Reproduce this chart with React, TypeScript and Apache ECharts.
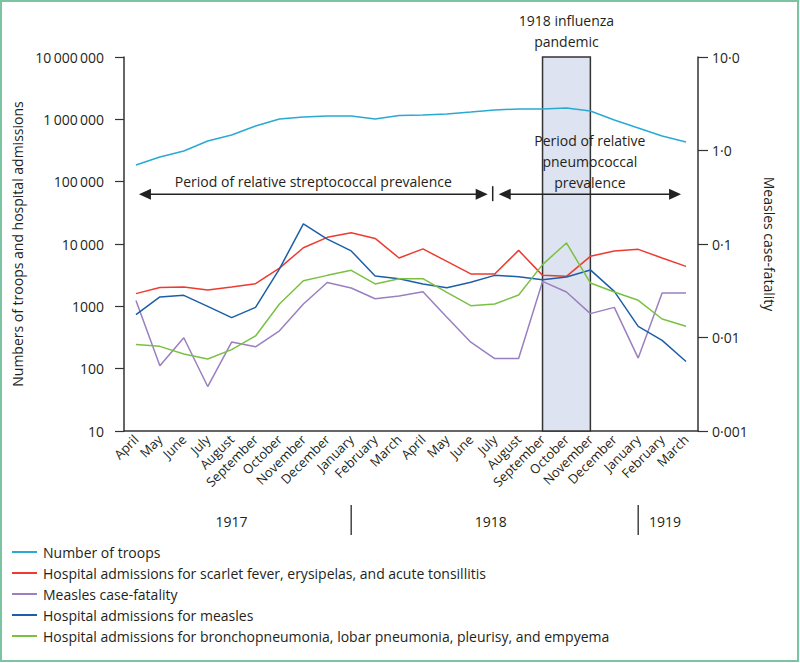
import React, { useEffect, useRef } from "react";
import * as echarts from "echarts";

const months = ["April", "May", "June", "July", "August", "September", "October", "November", "December", "January", "February", "March", "April", "May", "June", "July", "August", "September", "October", "November", "December", "January", "February", "March"];
const monthYears = [1917, 1917, 1917, 1917, 1917, 1917, 1917, 1917, 1917, 1918, 1918, 1918, 1918, 1918, 1918, 1918, 1918, 1918, 1918, 1918, 1918, 1919, 1919, 1919];
const categories = months.map((m, i) => `${m} ${monthYears[i]}`);

const troops = [185000, 249000, 311000, 449000, 561000, 782000, 1010000, 1090000, 1130000, 1130000, 1010000, 1150000, 1170000, 1220000, 1310000, 1410000, 1470000, 1470000, 1520000, 1360000, 975000, 726000, 540000, 433000];
const scarletFever = [1600, 2000, 2050, 1830, 2050, 2310, 4100, 8700, 12800, 15200, 12300, 5970, 8340, 5250, 3310, 3300, 7900, 3140, 3030, 6340, 7740, 8210, 5970, 4380];
const measlesFatality = [0.0249, 0.00498, 0.00993, 0.00299, 0.00893, 0.00795, 0.0118, 0.0228, 0.0388, 0.0338, 0.026, 0.0278, 0.0309, 0.0165, 0.0089, 0.00596, 0.00596, 0.0398, 0.0307, 0.018, 0.021, 0.00602, 0.0299, 0.0299];
const measlesAdmissions = [736, 1415, 1500, 1000, 659, 964, 4000, 21000, 12000, 7740, 3070, 2780, 2290, 1990, 2430, 3140, 2990, 2680, 2960, 3840, 1740, 477, 285, 130];
const pneumonia = [245, 228, 172, 143, 202, 335, 1092, 2580, 3140, 3780, 2290, 2780, 2780, 1680, 1026, 1092, 1524, 4670, 10400, 2370, 1700, 1250, 627, 478];

const leftTickLabels = ["10", "100", "1000", "10\u2009000", "100\u2009000", "1\u2009000\u2009000", "10\u2009000\u2009000"];
const rightTickLabels = ["0·001", "0·01", "0·1", "1·0", "10·0"];

const seriesNames = [
  "Number of troops",
  "Hospital admissions for scarlet fever, erysipelas, and acute tonsillitis",
  "Measles case-fatality",
  "Hospital admissions for measles",
  "Hospital admissions for bronchopneumonia, lobar pneumonia, pleurisy, and empyema",
];
const seriesColors = ["#2aa9d2", "#ee3b2f", "#9a7fc1", "#1c5fa8", "#7ac143"];

const pandemicStart = "September 1918";
const pandemicEnd = "November 1918";
const arrowLevel = 63000;
const yearLabels = ["1917", "1918", "1919"];

const FONT = "Open Sans";
const INK = "#231f20";

export default function App() {
  const ref = useRef<HTMLDivElement>(null);
  useEffect(() => {
    if (!ref.current) return;
    const chart = echarts.init(ref.current, undefined, { renderer: "svg" });
    const dataSets = [troops, scarletFever, measlesFatality, measlesAdmissions, pneumonia];
    chart.setOption({
      animation: false,
      textStyle: { fontFamily: FONT },
      grid: { left: 124, right: 102, top: 57, bottom: 232 },
      legend: {
        orient: "vertical",
        left: 12,
        top: 545,
        padding: 0,
        itemGap: 7,
        itemWidth: 25,
        itemHeight: 2,
        icon: "rect",
        textStyle: { fontFamily: FONT, fontSize: 14, color: INK, padding: [0, 0, 0, 1] },
        data: seriesNames,
      },
      xAxis: {
        type: "category",
        data: categories,
        boundaryGap: true,
        axisLine: { lineStyle: { color: "#333", width: 1.5 } },
        axisTick: { alignWithLabel: true, length: 7, lineStyle: { color: "#333", width: 1.2 } },
        axisLabel: {
          interval: 0,
          rotate: 45,
          fontSize: 13,
          color: INK,
          margin: 6,
          formatter: (v: string) => v.split(" ")[0],
        },
        splitLine: { show: false },
      },
      yAxis: [
        {
          type: "log",
          logBase: 10,
          min: 10,
          max: 10000000,
          position: "left",
          name: "Numbers of troops and hospital admissions",
          nameLocation: "middle",
          nameRotate: 90,
          nameGap: 97,
          nameTextStyle: { fontSize: 14, color: INK, fontFamily: FONT },
          axisLine: { show: true, lineStyle: { color: "#333", width: 1.5 } },
          axisTick: { show: true, length: 9, lineStyle: { color: "#333", width: 1.2 } },
          axisLabel: {
            fontSize: 14,
            color: INK,
            margin: 20,
            formatter: (v: number) => leftTickLabels[Math.round(Math.log10(v)) - 1],
          },
          splitLine: { show: false },
        },
        {
          type: "log",
          logBase: 10,
          min: 0.001,
          max: 10,
          position: "right",
          name: "Measles case-fatality",
          nameLocation: "middle",
          nameRotate: -90,
          nameGap: 64,
          nameTextStyle: { fontSize: 14, color: INK, fontFamily: FONT },
          axisLine: { show: true, lineStyle: { color: "#333", width: 1.5 } },
          axisTick: { show: true, length: 10, lineStyle: { color: "#333", width: 1.2 } },
          axisLabel: {
            fontSize: 14,
            color: INK,
            margin: 14,
            formatter: (v: number) => rightTickLabels[Math.round(Math.log10(v)) + 3],
          },
          splitLine: { show: false },
        },
      ],
      series: seriesNames.map((name, i) => ({
        name,
        type: "line",
        yAxisIndex: i === 2 ? 1 : 0,
        data: dataSets[i],
        symbol: "none",
        z: 3,
        lineStyle: { color: seriesColors[i], width: 1.5 },
        itemStyle: { color: seriesColors[i] },
        markArea:
          i === 0
            ? {
                silent: true,
                z: 1,
                itemStyle: { color: "#dde3f0", borderColor: "#333", borderWidth: 1.5 },
                data: [[{ xAxis: pandemicStart, yAxis: 10000000 }, { xAxis: pandemicEnd, yAxis: 10 }]],
              }
            : undefined,
      })),
    });

    const xp = (i: number) => chart.convertToPixel({ xAxisIndex: 0 }, categories[i]) as number;
    const ay = chart.convertToPixel({ yAxisIndex: 0 }, arrowLevel) as number;
    const iPandemicStart = categories.indexOf(pandemicStart);
    const iPandemicEnd = categories.indexOf(pandemicEnd);
    const iSplit = categories.indexOf("July 1918");
    const iJan18 = categories.indexOf("January 1918");
    const iJan19 = categories.indexOf("January 1919");
    const last = categories.length - 1;
    const ink = "#222";

    const leftTip = xp(0) + 3;
    const leftEnd = xp(iSplit) - 7;
    const barX = xp(iSplit) - 2;
    const rightStart = xp(iSplit) + 4;
    const rightTip = xp(last) - 5;
    const ah = 12;
    const aw = 5.5;
    const txt = (x: number, y: number, text: string, extra: any = {}) => ({
      type: "text",
      x,
      y,
      silent: true,
      z: 10,
      style: { text, fill: INK, fontFamily: FONT, fontSize: 14, align: "center", verticalAlign: "middle", ...extra },
    });

    const yearTop = 505;
    const yearBottom = 535;
    chart.setOption({
      graphic: [
        { type: "rect", silent: true, shape: { x: 1, y: 1, width: 797, height: 660 }, style: { fill: "none", stroke: "#7cc4a1", lineWidth: 2 } },
        txt((xp(iPandemicStart) + xp(iPandemicEnd)) / 2, 20, "1918 influenza"),
        txt((xp(iPandemicStart) + xp(iPandemicEnd)) / 2, 41, "pandemic"),
        txt((leftTip + leftEnd) / 2, ay - 13, "Period of relative streptococcal prevalence"),
        txt((rightStart + rightTip) / 2, ay - 54, "Period of relative"),
        txt((rightStart + rightTip) / 2, ay - 33, "pneumococcal"),
        txt((rightStart + rightTip) / 2, ay - 12, "prevalence"),
        { type: "line", silent: true, z: 10, shape: { x1: leftTip + ah - 1, y1: ay, x2: leftEnd - ah + 1, y2: ay }, style: { stroke: ink, lineWidth: 1.5 } },
        { type: "polygon", silent: true, z: 10, shape: { points: [[leftTip, ay], [leftTip + ah, ay - aw], [leftTip + ah, ay + aw]] }, style: { fill: ink } },
        { type: "polygon", silent: true, z: 10, shape: { points: [[leftEnd, ay], [leftEnd - ah, ay - aw], [leftEnd - ah, ay + aw]] }, style: { fill: ink } },
        { type: "line", silent: true, z: 10, shape: { x1: barX, y1: ay - 8, x2: barX, y2: ay + 7 }, style: { stroke: ink, lineWidth: 1.5 } },
        { type: "line", silent: true, z: 10, shape: { x1: rightStart + ah - 1, y1: ay, x2: rightTip - ah + 1, y2: ay }, style: { stroke: ink, lineWidth: 1.5 } },
        { type: "polygon", silent: true, z: 10, shape: { points: [[rightStart, ay], [rightStart + ah, ay - aw], [rightStart + ah, ay + aw]] }, style: { fill: ink } },
        { type: "polygon", silent: true, z: 10, shape: { points: [[rightTip, ay], [rightTip - ah, ay - aw], [rightTip - ah, ay + aw]] }, style: { fill: ink } },
        { type: "line", silent: true, shape: { x1: xp(iJan18), y1: yearTop, x2: xp(iJan18), y2: yearBottom }, style: { stroke: "#444", lineWidth: 1.5 } },
        { type: "line", silent: true, shape: { x1: xp(iJan19), y1: yearTop, x2: xp(iJan19), y2: yearBottom }, style: { stroke: "#444", lineWidth: 1.5 } },
        txt((xp(0) + xp(iJan18 - 1)) / 2, 521, yearLabels[0]),
        txt((xp(iJan18) + xp(iJan19)) / 2 - 4, 521, yearLabels[1]),
        txt((xp(iJan19) + xp(last)) / 2 + 3, 521, yearLabels[2]),
      ],
    });
    return () => chart.dispose();
  }, []);
  return <div ref={ref} style={{ position: "fixed", left: 0, top: 0, width: 800, height: 663, background: "#fff" }} />;
}
